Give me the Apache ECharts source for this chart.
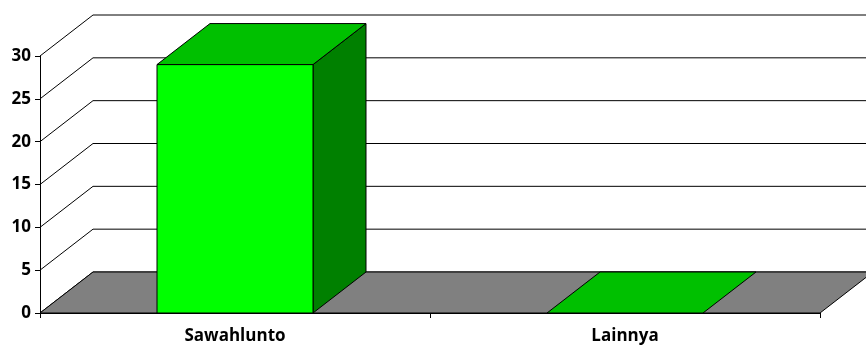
<!DOCTYPE html>
<html>
<head>
<meta charset="utf-8">
<script src="https://cdn.jsdelivr.net/npm/echarts@6/dist/echarts.min.js"></script>
<style>html,body{margin:0;padding:0;background:#fff}#c{width:866px;height:349px}</style>
</head>
<body>
<div id="c"></div>
<script>
var categories = ['Sawahlunto', 'Lainnya'];
var values = [29, 0];
var yTicks = [0, 5, 10, 15, 20, 25, 30];

var DX = 53, DY = -41;
var FONT = 'Open Sans';

var chart = echarts.init(document.getElementById('c'), null, {renderer: 'canvas'});

function wallItem(params, api) {
  var cs = params.coordSys;
  var p = api.coord([0, api.value(0)]);
  var y = p[1];
  var x0 = cs.x;
  return {
    type: 'polyline',
    shape: {points: [[x0, y], [x0 + DX, y + DY], [cs.x + cs.width + DX + 200, y + DY]]},
    style: {stroke: '#000', lineWidth: 1, fill: null}
  };
}

function floorItem(params, api) {
  var cs = params.coordSys;
  var y0 = api.coord([0, 0])[1];
  var xl = cs.x, xr = cs.x + cs.width;
  return {
    type: 'polygon',
    shape: {points: [[xl, y0], [xr, y0], [xr + DX, y0 + DY], [xl + DX, y0 + DY]]},
    style: {fill: '#808080', stroke: '#000', lineWidth: 1}
  };
}

function barItem(params, api) {
  var idx = api.value(0);
  var val = api.value(1);
  var top = api.coord([idx, val]);
  var base = api.coord([idx, 0]);
  var w = api.size([1, 0])[0] * 0.4;
  var xl = top[0] - w / 2, xr = top[0] + w / 2;
  var yt = top[1], yb = base[1];
  var children = [];
  if (yb - yt > 0.5) {
    children.push({
      type: 'polygon',
      shape: {points: [[xr, yt], [xr + DX, yt + DY], [xr + DX, yb + DY], [xr, yb]]},
      style: {fill: '#008000', stroke: '#000', lineWidth: 1}
    });
    children.push({
      type: 'rect',
      shape: {x: xl, y: yt, width: w, height: yb - yt},
      style: {fill: '#00ff00', stroke: '#000', lineWidth: 1}
    });
  }
  children.push({
    type: 'polygon',
    shape: {points: [[xl, yt], [xr, yt], [xr + DX, yt + DY], [xl + DX, yt + DY]]},
    style: {fill: '#00c000', stroke: '#000', lineWidth: 1}
  });
  return {type: 'group', children: children};
}

var option = {
  animation: false,
  backgroundColor: '#fff',
  grid: {left: 40, right: 46, top: 56, bottom: 36, containLabel: false},
  xAxis: {
    type: 'category',
    data: categories,
    boundaryGap: true,
    axisLine: {show: true, lineStyle: {color: '#000', width: 1}},
    axisTick: {show: true, length: 5, alignWithLabel: false, lineStyle: {color: '#000'}},
    axisLabel: {color: '#000', fontFamily: FONT, fontWeight: 'bold', fontSize: 17, margin: 15},
    splitLine: {show: false},
    z: 10
  },
  yAxis: {
    type: 'value',
    min: 0, max: 30, interval: 5,
    axisLine: {show: true, lineStyle: {color: '#000', width: 1}},
    axisTick: {show: true, length: 5, lineStyle: {color: '#000'}},
    axisLabel: {color: '#000', fontFamily: FONT, fontWeight: 'bold', fontSize: 17, margin: 9},
    splitLine: {show: false},
    z: 10
  },
  series: [
    {type: 'custom', renderItem: wallItem, data: yTicks.map(function (t) { return [t]; }), encode: {y: 0}, z: 1, silent: true},
    {type: 'custom', renderItem: floorItem, data: [[0]], z: 2, silent: true},
    {type: 'custom', renderItem: barItem, data: values.map(function (v, i) { return [i, v]; }), encode: {x: 0, y: 1}, z: 3}
  ]
};
chart.setOption(option);
</script>
</body>
</html>
